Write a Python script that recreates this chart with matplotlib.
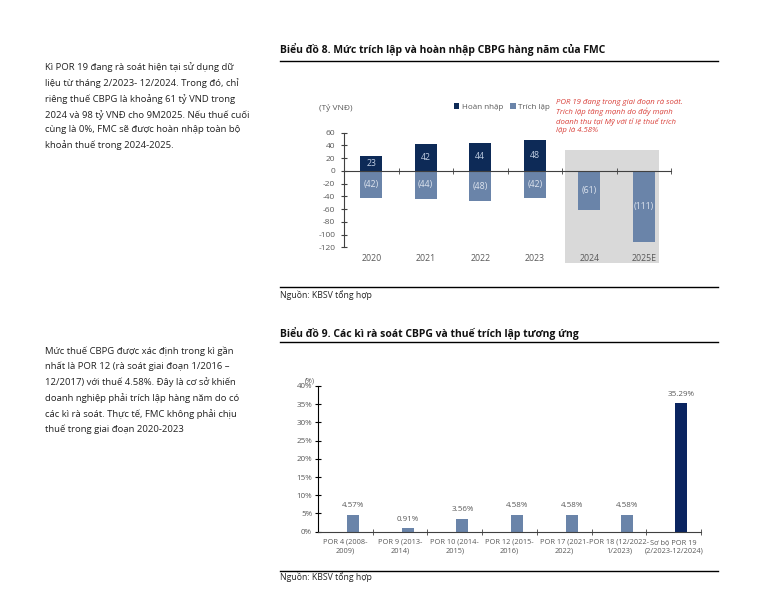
import matplotlib
matplotlib.use("Agg")
import matplotlib.pyplot as plt
from matplotlib.patches import Rectangle
from matplotlib.lines import Line2D
import numpy as np

plt.rcParams['font.family'] = ['Open Sans', 'DejaVu Sans']
plt.rcParams['axes.unicode_minus'] = False

# chart 8 data
years = ['2020', '2021', '2022', '2023', '2024', '2025E']
hoan_nhap = [23, 42, 44, 48, 0, 0]
trich_lap = [-42, -44, -48, -42, -61, -111]

# chart 9 data
periods = ['POR 4 (2008-\n2009)', 'POR 9 (2013-\n2014)', 'POR 10 (2014-\n2015)',
           'POR 12 (2015-\n2016)', 'POR 17 (2021-\n2022)', 'POR 18 (12/2022-\n1/2023)',
           'Sơ bộ POR 19\n(2/2023-12/2024)']
tax_rate = [4.57, 0.91, 3.56, 4.58, 4.58, 4.58, 35.29]

NAVY = '#0d2a57'
STEEL = '#6a84a9'
GREY_TXT = '#595959'
W, H = 765, 599

fig = plt.figure(figsize=(W / 100, H / 100), dpi=100)
fig.patch.set_facecolor('white')


def fx(px):
    return px / W


def fy(py):
    return 1 - py / H


# side paragraphs
para1 = ("Kì POR 19 đang rà soát hiện tại sử dụng dữ\n"
         "liệu từ tháng 2/2023- 12/2024. Trong đó, chỉ\n"
         "riêng thuế CBPG là khoảng 61 tỷ VND trong\n"
         "2024 và 98 tỷ VNĐ cho 9M2025. Nếu thuế cuối\n"
         "cùng là 0%, FMC sẽ được hoàn nhập toàn bộ\n"
         "khoản thuế trong 2024-2025.")
para2 = ("Mức thuế CBPG được xác định trong kì gần\n"
         "nhất là POR 12 (rà soát giai đoạn 1/2016 –\n"
         "12/2017) với thuế 4.58%. Đây là cơ sở khiến\n"
         "doanh nghiệp phải trích lập hàng năm do có\n"
         "các kì rà soát. Thực tế, FMC không phải chịu\n"
         "thuế trong giai đoạn 2020-2023")
fig.text(fx(45), fy(62), para1, fontsize=6.8, color='#222222', va='top', linespacing=1.78)
fig.text(fx(45), fy(346), para2, fontsize=6.8, color='#222222', va='top', linespacing=1.78)

# titles, rules, sources
fig.text(fx(280), fy(49), 'Biểu đồ 8. Mức trích lập và hoàn nhập CBPG hàng năm của FMC',
         fontsize=7.5, fontweight='bold', va='center', color='#111111')
fig.text(fx(280), fy(333), 'Biểu đồ 9. Các kì rà soát CBPG và thuế trích lập tương ứng',
         fontsize=7.5, fontweight='bold', va='center', color='#111111')
for yy in [60.7, 287, 342, 571]:
    fig.add_artist(Line2D([fx(280), fx(718)], [fy(yy), fy(yy)], color='black', lw=1))
fig.text(fx(280), fy(295), 'Nguồn: KBSV tổng hợp', fontsize=6.3, va='center', color='#222222')
fig.text(fx(280), fy(577), 'Nguồn: KBSV tổng hợp', fontsize=6.3, va='center', color='#222222')

# ---- chart 8 ----
shade = Rectangle((fx(565), fy(263)), fx(659) - fx(565), fy(150) - fy(263),
                  transform=fig.transFigure, facecolor='#d9d9d9', edgecolor='none', zorder=-1)
fig.add_artist(shade)

ax1 = fig.add_axes([fx(344), fy(247.3), fx(671) - fx(344), fy(132.7) - fy(247.3)])
ax1.patch.set_visible(False)
x = np.arange(len(years))
b1 = ax1.bar(x, hoan_nhap, width=0.4, color=NAVY, zorder=2)
b2 = ax1.bar(x, trich_lap, width=0.4, color=STEEL, zorder=2)
ax1.bar_label(b1, labels=[str(v) if v else '' for v in hoan_nhap], label_type='center',
              fontsize=6.3, color='#c3d0e4')
ax1.bar_label(b2, labels=['(%d)' % -v for v in trich_lap], label_type='center',
              fontsize=6.3, color='#dfe5ef')
ax1.set_xlim(-0.5, 5.5)
ax1.set_ylim(-120, 60)
ax1.set_yticks(range(-120, 61, 20))
for s in ['top', 'right']:
    ax1.spines[s].set_visible(False)
ax1.spines['bottom'].set_position(('data', 0))
ax1.spines['bottom'].set_color('#404040')
ax1.spines['left'].set_color('#404040')
ax1.set_xticks(x)
ax1.set_xticklabels(years)
ax1.set_xticks(np.arange(0.5, 6, 1), minor=True)
ax1.tick_params(axis='x', which='major', length=0, pad=60, labelsize=6.3, labelcolor=GREY_TXT)
ax1.tick_params(axis='x', which='minor', direction='inout', length=4, color='#404040')
ax1.tick_params(axis='y', direction='inout', length=4.5, pad=4, labelsize=6,
                labelcolor=GREY_TXT, color='#404040')

fig.text(fx(336), fy(108), '(Tỷ VNĐ)', fontsize=6, color=GREY_TXT, ha='center', va='center')
fig.legend([b1, b2], ['Hoàn nhập', 'Trích lập'], loc='center',
           bbox_to_anchor=(fx(502), fy(107)), ncol=2, frameon=False, fontsize=5.8,
           labelcolor=GREY_TXT, handlelength=0.7, handleheight=0.7, handletextpad=0.3,
           columnspacing=0.9)
fig.text(fx(556), fy(99), 'POR 19 đang trong giai đoạn rà soát.\n'
         'Trích lập tăng mạnh do đẩy mạnh\n'
         'doanh thu tại Mỹ với tỉ lệ thuế trích\n'
         'lập là 4.58%', fontsize=5.6, style='italic', color='#d9403a',
         va='top', linespacing=1.25)

# ---- chart 9 ----
ax2 = fig.add_axes([fx(318), fy(531.7), fx(701) - fx(318), fy(386) - fy(531.7)])
ax2.patch.set_visible(False)
x2 = np.arange(len(periods))
colors2 = [STEEL] * (len(periods) - 1) + ['#0a2460']
b3 = ax2.bar(x2 + 0.14, tax_rate, width=0.22, color=colors2, zorder=2)
ax2.bar_label(b3, labels=['%.2f%%' % v for v in tax_rate], padding=4,
              fontsize=5.8, color=GREY_TXT)
ax2.set_xlim(-0.5, 6.5)
ax2.set_ylim(0, 40)
ax2.set_yticks(range(0, 41, 5))
ax2.set_yticklabels(['%d%%' % v for v in range(0, 41, 5)])
for s in ['top', 'right']:
    ax2.spines[s].set_visible(False)
ax2.spines['bottom'].set_color('#404040')
ax2.spines['left'].set_color('black')
ax2.set_xticks(x2)
ax2.set_xticklabels(periods, linespacing=1.3)
ax2.set_xticks(np.arange(0.5, 7, 1), minor=True)
ax2.tick_params(axis='x', which='major', length=0, pad=5, labelsize=5.3, labelcolor=GREY_TXT)
ax2.tick_params(axis='x', which='minor', direction='inout', length=4, color='#404040')
ax2.tick_params(axis='y', direction='inout', length=4.5, pad=2, labelsize=5.8,
                labelcolor=GREY_TXT)
fig.text(fx(310), fy(381), '(%)', fontsize=5, color=GREY_TXT, ha='center', va='center')

fig.savefig('out.png', dpi=100)
